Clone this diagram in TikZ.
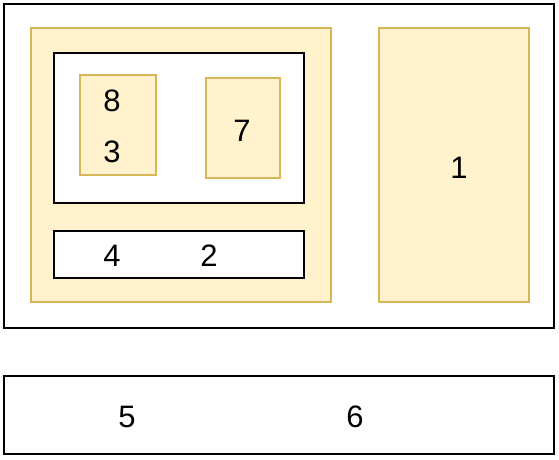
\documentclass[tikz,border=0pt]{standalone}
\usepackage{fontspec}
\setmainfont{Liberation Sans}
\definecolor{yfill}{HTML}{FFF2CC}
\definecolor{ydraw}{HTML}{D6B656}
\begin{document}
\begin{tikzpicture}[x=1pt,y=-1pt,
  box/.style={draw=black,line width=2.2pt,fill=white,inner sep=0pt,outer sep=0pt},
  ybox/.style={draw=ydraw,line width=2.2pt,fill=yfill,inner sep=0pt,outer sep=0pt},
  lbl/.style={inner sep=0pt,font=\fontsize{31}{36}\selectfont}]
\useasboundingbox (0,0) rectangle (559,459);
\newcommand{\rbox}[6]{\node[#1,minimum width={#5-#3},minimum height={#6-#4}] (#2) at ({(#3+#5)/2},{(#4+#6)/2}) {};}
\rbox{box}{outer}{4}{4}{554}{328}
\rbox{ybox}{left}{31}{28}{331}{302}
\rbox{box}{inner}{54}{53}{304}{203}
\rbox{ybox}{ea}{80}{75}{156}{175}
\rbox{ybox}{eb}{206}{78}{280}{178}
\rbox{box}{bar}{54}{231}{304}{278}
\rbox{ybox}{right}{379}{28}{529}{302}
\rbox{box}{bottom}{4}{376}{554}{454}
\node[lbl] (t8) at (112,101) {8};
\node[lbl] (t3) at (112,152) {3};
\node[lbl] (t7) at (242,131) {7};
\node[lbl] (t4) at (112,256) {4};
\node[lbl] (t2) at (209,256) {2};
\node[lbl] (t1) at (459,168) {1};
\node[lbl] (t5) at (127,417) {5};
\node[lbl] (t6) at (355,417) {6};
\end{tikzpicture}
\end{document}
